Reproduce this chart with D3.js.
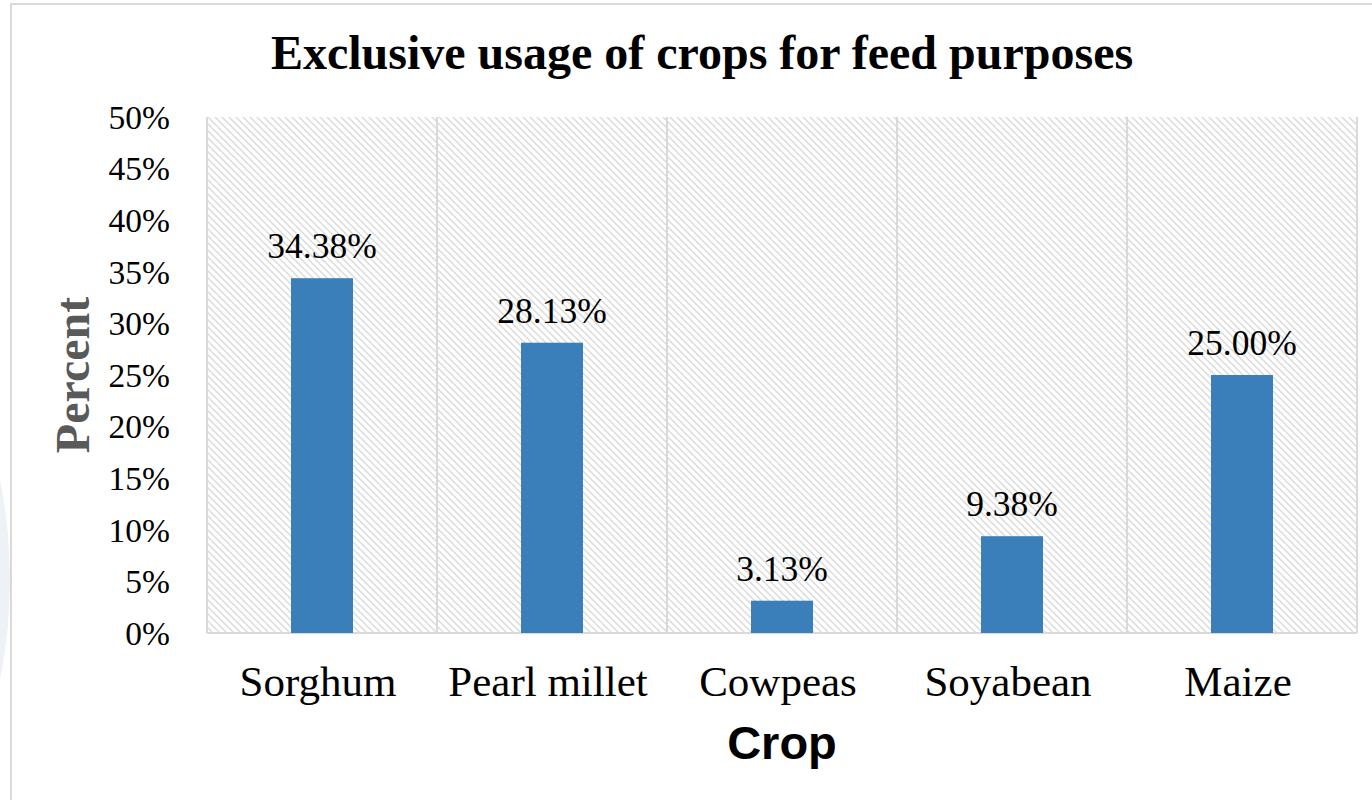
<!DOCTYPE html>
<html>
<head>
<meta charset="utf-8">
<script src="https://cdn.jsdelivr.net/npm/d3@7/dist/d3.min.js"></script>
<style>
  html, body { margin: 0; padding: 0; background: #fff; }
  svg { display: block; }
</style>
</head>
<body>
<svg id="chart" width="1372" height="800"></svg>
<script>
const categories = ["Sorghum", "Pearl millet", "Cowpeas", "Soyabean", "Maize"];
const values = [34.38, 28.13, 3.13, 9.38, 25.00];
const valueLabels = ["34.38%", "28.13%", "3.13%", "9.38%", "25.00%"];
const yTicks = [0, 5, 10, 15, 20, 25, 30, 35, 40, 45, 50];
const titleText = "Exclusive usage of crops for feed purposes";
const xTitle = "Crop";
const yTitle = "Percent";

const svg = d3.select("#chart");
const W = 1372, H = 800;
const plot = { left: 207, right: 1357, top: 117, bottom: 633 };

// faint decorative shape at far left
svg.append("circle").attr("cx", -495).attr("cy", 580).attr("r", 505).attr("fill", "#eef2f6");
// chart area
svg.append("rect").attr("x", 11).attr("y", 4).attr("width", W + 20).attr("height", H + 20)
  .attr("fill", "#fff").attr("stroke", "#d9d9d9").attr("stroke-width", 2);

const defs = svg.append("defs");
const pat = defs.append("pattern").attr("id", "hatch").attr("patternUnits", "userSpaceOnUse")
  .attr("width", 7).attr("height", 7);
pat.append("rect").attr("width", 7).attr("height", 7).attr("fill", "#fff");
pat.append("path").attr("d", "M-1,-1 L8,8 M-1,6 L1,8 M6,-1 L8,1")
  .attr("stroke", "#dadada").attr("stroke-width", 1.4);

const x = d3.scaleBand().domain(categories).range([plot.left, plot.right]).paddingInner(0).paddingOuter(0);
const y = d3.scaleLinear().domain([0, 50]).range([plot.bottom, plot.top]);

svg.append("rect").attr("x", plot.left).attr("y", plot.top)
  .attr("width", plot.right - plot.left).attr("height", plot.bottom - plot.top)
  .attr("fill", "url(#hatch)");

// vertical gridlines at category boundaries
const bounds = categories.map(c => x(c)).concat([plot.right]);
svg.append("g").selectAll("line").data(bounds).join("line")
  .attr("x1", d => d).attr("x2", d => d).attr("y1", plot.top).attr("y2", plot.bottom)
  .attr("stroke", "#d9d9d9").attr("stroke-width", 2);

// bottom axis line
svg.append("line").attr("x1", plot.left).attr("x2", plot.right)
  .attr("y1", plot.bottom).attr("y2", plot.bottom).attr("stroke", "#d9d9d9").attr("stroke-width", 2);

// bars
const barW = 62;
svg.append("g").selectAll("rect").data(values).join("rect")
  .attr("x", (d, i) => x(categories[i]) + x.bandwidth() / 2 - barW / 2)
  .attr("y", d => y(d))
  .attr("width", barW)
  .attr("height", d => y(0) - y(d))
  .attr("fill", "#3b7fba");

// data labels
svg.append("g").selectAll("text").data(values).join("text")
  .attr("x", (d, i) => x(categories[i]) + x.bandwidth() / 2)
  .attr("y", d => y(d) - 20)
  .attr("text-anchor", "middle")
  .attr("font-family", "Liberation Serif, Times New Roman, serif")
  .attr("font-size", 35.5)
  .attr("fill", "#000")
  .text((d, i) => valueLabels[i]);

// y axis
const yAxis = d3.axisLeft(y).tickValues(yTicks).tickFormat(d => d + "%").tickSize(0).tickPadding(37);
const gy = svg.append("g").attr("transform", `translate(${plot.left},0)`).call(yAxis);
gy.select(".domain").remove();
gy.selectAll("text").attr("font-family", "Liberation Serif, Times New Roman, serif")
  .attr("font-size", 33.5).attr("fill", "#000").attr("dy", "0.34em");

// x axis
const xAxis = d3.axisBottom(x).tickSize(0).tickPadding(0);
const gx = svg.append("g").attr("transform", `translate(0,${plot.bottom})`).call(xAxis);
gx.select(".domain").remove();
gx.selectAll("text").attr("font-family", "Liberation Serif, Times New Roman, serif")
  .attr("font-size", 43).attr("fill", "#000").attr("dy", null).attr("y", 63).attr("dx", -4);

// titles
svg.append("text").attr("x", 702).attr("y", 69).attr("text-anchor", "middle")
  .attr("font-family", "Liberation Serif, Times New Roman, serif").attr("font-weight", "bold")
  .attr("font-size", 48).attr("fill", "#000").text(titleText);

svg.append("text").attr("x", (plot.left + plot.right) / 2).attr("y", 759).attr("text-anchor", "middle")
  .attr("font-family", "Liberation Sans, Arial, sans-serif").attr("font-weight", "bold")
  .attr("font-size", 47).attr("fill", "#000").text(xTitle);

svg.append("text").attr("transform", `translate(89,${(plot.top + plot.bottom) / 2}) rotate(-90)`)
  .attr("text-anchor", "middle")
  .attr("font-family", "Liberation Serif, Times New Roman, serif").attr("font-weight", "bold")
  .attr("font-size", 48).attr("fill", "#595959").text(yTitle);
</script>
</body>
</html>
